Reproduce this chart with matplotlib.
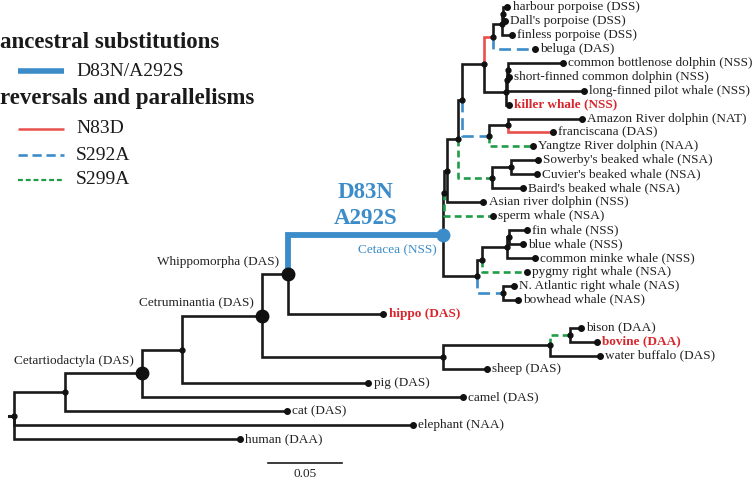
import matplotlib
matplotlib.use('Agg')
import matplotlib.pyplot as plt

plt.rcParams['font.family'] = ['Liberation Serif', 'DejaVu Serif']

BLUE = '#3b8cc8'
RED = '#e8504c'
GREEN = '#1f9d48'
LABEL_RED = '#d8262c'

# leaves, top to bottom, with their distance from the root (subst./site)
leaves = ['harbour', 'dall', 'finless', 'beluga', 'bottlenose', 'shortfin', 'longfin', 'killer',
          'amazon', 'franciscana', 'yangtze', 'sowerby', 'cuvier', 'baird', 'asian', 'sperm',
          'fin', 'bluew', 'minke', 'pygmy', 'natlantic', 'bowhead', 'hippo', 'bison', 'bovine',
          'buffalo', 'sheep', 'pig', 'camel', 'cat', 'elephant', 'human']
leaf_labels = ['harbour porpoise (DSS)', "Dall's porpoise (DSS)", 'finless porpoise (DSS)',
               'beluga (DAS)', 'common bottlenose dolphin (NSS)', 'short-finned common dolphin (NSS)',
               'long-finned pilot whale (NSS)', 'killer whale (NSS)', 'Amazon River dolphin (NAT)',
               'franciscana (DAS)', 'Yangtze River dolphin (NAA)', "Sowerby's beaked whale (NSA)",
               "Cuvier's beaked whale (NSA)", "Baird's beaked whale (NSA)", 'Asian river dolphin (NSS)',
               'sperm whale (NSA)', 'fin whale (NSS)', 'blue whale (NSS)', 'common minke whale (NSS)',
               'pygmy right whale (NSA)', 'N. Atlantic right whale (NAS)', 'bowhead whale (NAS)',
               'hippo (DAS)', 'bison (DAA)', 'bovine (DAA)', 'water buffalo (DAS)', 'sheep (DAS)',
               'pig (DAS)', 'camel (DAS)', 'cat (DAS)', 'elephant (NAA)', 'human (DAA)']
leaf_depth = [0.3334, 0.3318, 0.3365, 0.3520, 0.3707, 0.3345, 0.3851, 0.3345,
              0.3836, 0.3642, 0.3507, 0.3541, 0.3532, 0.3439, 0.3171, 0.3234,
              0.3466, 0.3437, 0.3520, 0.3464, 0.3378, 0.3403, 0.2495, 0.3831, 0.3937,
              0.3959, 0.3194, 0.2394, 0.3034, 0.1843, 0.2696, 0.1527]
highlight_leaves = ['killer', 'hippo', 'bovine']

# internal nodes: children (top to bottom) and distance from the root
nodes = ['root', 'E', 'Ct', 'X', 'R', 'W', 'C', 'O', 'B', 'A', 'A2', 'Dn', 'Mp', 'Ph', 'Ph2',
         'D', 'D2', 'D3', 'L', 'In', 'K', 'K2', 'M', 'P', 'Bp', 'Bp2', 'Rw', 'Ru', 'Bo', 'Bb']
node_children = [['E', 'elephant', 'human'], ['Ct', 'cat'], ['X', 'camel'], ['R', 'pig'],
                 ['W', 'Ru'], ['C', 'hippo'], ['O', 'M'], ['B', 'sperm'], ['A', 'asian'],
                 ['A2', 'K'], ['Dn', 'L'], ['Mp', 'D'], ['Ph', 'beluga'], ['Ph2', 'finless'],
                 ['harbour', 'dall'], ['D2', 'killer'], ['D3', 'longfin'], ['bottlenose', 'shortfin'],
                 ['In', 'yangtze'], ['amazon', 'franciscana'], ['K2', 'baird'], ['sowerby', 'cuvier'],
                 ['P', 'Rw'], ['Bp', 'pygmy'], ['Bp2', 'minke'], ['fin', 'bluew'],
                 ['natlantic', 'bowhead'], ['Bo', 'sheep'], ['Bb', 'buffalo'], ['bison', 'bovine']]
node_depth = [0.0, 0.0345, 0.0867, 0.1137, 0.1678, 0.1848, 0.2899, 0.2905, 0.2924, 0.2998,
              0.3025, 0.3172, 0.3236, 0.3294, 0.3304, 0.3324, 0.3331, 0.3338, 0.3209, 0.3338,
              0.3228, 0.3356, 0.3126, 0.3160, 0.3333, 0.3345, 0.3306, 0.2901, 0.3622, 0.3757]

# branches carrying substitutions (branch leading to the node)
ancestral = ['C']
n83d = ['Mp', 'franciscana']
s292a = ['beluga', 'L', 'Rw']
s299a = ['yangtze', 'K', 'sperm', 'pygmy', 'Bb']

big_nodes = ['Ct', 'R', 'W']
clade_labels = {'Ct': 'Cetartiodactyla (DAS)', 'R': 'Cetruminantia (DAS)', 'W': 'Whippomorpha (DAS)'}

# ---- layout ----
xpos = dict(zip(leaves, leaf_depth))
xpos.update(zip(nodes, node_depth))
kids = dict(zip(nodes, node_children))
ypos = {name: i for i, name in enumerate(leaves)}


def place(n):
    if n in ypos:
        return ypos[n]
    ys = [place(c) for c in kids[n]]
    ypos[n] = (ys[0] + ys[-1]) / 2
    return ypos[n]


place('root')
parent = {c: p for p in nodes for c in kids[p]}

fig = plt.figure(figsize=(7.53, 4.82), dpi=100)
ax = fig.add_axes([0, 0, 1, 1])
ax.set_xlim(-0.0095, 0.4993)
ax.set_ylim(34.07, -0.50)
ax.axis('off')

for n, p in parent.items():
    xs = [xpos[p], xpos[p], xpos[n]]
    ys = [ypos[p], ypos[n], ypos[n]]
    kw = dict(color='#1a1a1a', lw=1.9, solid_joinstyle='miter', solid_capstyle='butt', zorder=2)
    if n in ancestral:
        kw.update(color=BLUE, lw=4.2, zorder=3)
    elif n in n83d:
        kw.update(color=RED, lw=1.9, zorder=3)
    elif n in s292a:
        kw.update(color=BLUE, lw=1.9, linestyle=(0, (4.5, 2.2)), zorder=3)
    elif n in s299a:
        kw.update(color=GREEN, lw=1.9, linestyle=(0, (2.6, 1.6)), zorder=3)
    ax.plot(xs, ys, **kw)

# root stub
ax.plot([xpos['root'] - 0.0034, xpos['root']], [ypos['root']] * 2, color='#1a1a1a', lw=2.2)

# node dots
for n in nodes:
    if n in big_nodes:
        ax.plot(xpos[n], ypos[n], 'o', color='#111111', ms=9, zorder=5)
    elif n == 'C':
        ax.plot(xpos[n], ypos[n], 'o', color=BLUE, ms=9, zorder=5)
    else:
        ax.plot(xpos[n], ypos[n], 'o', color='#111111', ms=3.5, zorder=5)

for name, lab in zip(leaves, leaf_labels):
    ax.plot(xpos[name], ypos[name], 'o', color='#111111', ms=4, zorder=5)
    if name in highlight_leaves:
        ax.text(xpos[name] + 0.0036, ypos[name], lab, va='center', ha='left',
                fontsize=9.5, color=LABEL_RED, fontweight='bold')
    else:
        ax.text(xpos[name] + 0.0036, ypos[name], lab, va='center', ha='left',
                fontsize=9.5, color='#222222')

for n, lab in clade_labels.items():
    ax.text(xpos[n] - 0.0055, ypos[n] - 0.9, lab, ha='right', va='center',
            fontsize=9.5, color='#222222')

ax.text(xpos['C'] - 0.004, ypos['C'] + 1.1, 'Cetacea (NSS)', ha='right', va='center',
        fontsize=9.5, color=BLUE)
mid = (xpos['W'] + xpos['C']) / 2
ax.text(mid, ypos['C'] - 3.0, 'D83N', ha='center', va='center', fontsize=16.5,
        fontweight='bold', color=BLUE)
ax.text(mid, ypos['C'] - 1.15, 'A292S', ha='center', va='center', fontsize=16.5,
        fontweight='bold', color=BLUE)

# scale bar
sb_x = 0.1716
ax.plot([sb_x, sb_x + 0.05], [32.71, 32.71], color='#1a1a1a', lw=1.2)
ax.text(sb_x + 0.025, 33.5, '0.05', ha='center', va='center', fontsize=9.5, color='#222222')


# ---- legend (figure pixel positions) ----
def fx(px):
    return px / 753


def fy(py):
    return 1 - py / 482


fig.text(fx(0), fy(42), 'ancestral substitutions', fontsize=16.5, fontweight='bold',
         va='center', ha='left', color='#1a1a1a')
fig.text(fx(0), fy(99), 'reversals and parallelisms', fontsize=16.5, fontweight='bold',
         va='center', ha='left', color='#1a1a1a')
legend_items = [('D83N/A292S', 71, dict(color=BLUE, lw=4)),
                ('N83D', 129, dict(color=RED, lw=1.8)),
                ('S292A', 155, dict(color=BLUE, lw=1.9, linestyle=(0, (3.5, 1.8)))),
                ('S299A', 180, dict(color=GREEN, lw=1.6, linestyle=(0, (2.2, 1.3))))]
for text, py, style in legend_items:
    fig.add_artist(plt.Line2D([fx(18), fx(64)], [fy(py), fy(py)], transform=fig.transFigure,
                              solid_capstyle='butt', **style))
    fig.text(fx(76), fy(py), text, fontsize=14, va='center', ha='left', color='#1a1a1a')

fig.savefig('out.png', dpi=100)
